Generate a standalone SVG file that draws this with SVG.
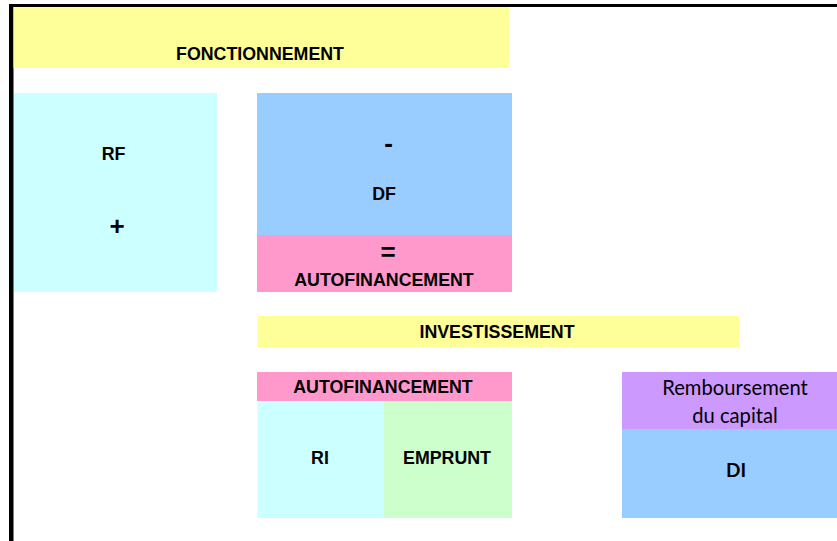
<svg xmlns="http://www.w3.org/2000/svg" width="837" height="541" viewBox="0 0 837 541">
<style>
.b{font-family:"Liberation Sans",Arial,sans-serif;font-weight:bold;font-size:17.8px;fill:#000;text-anchor:middle}
.op{font-family:"Liberation Sans",Arial,sans-serif;font-weight:bold;font-size:26px;fill:#000;text-anchor:middle}
.c{font-family:Lato,"Open Sans",sans-serif;font-size:20.2px;fill:#000;text-anchor:middle}
.cb{font-family:Lato,"Open Sans",sans-serif;font-weight:bold;font-size:19px;fill:#000;text-anchor:middle}
</style>
<rect width="837" height="541" fill="#fff"/>
<g id="frame">
<rect x="9" y="4" width="828" height="3" fill="#000"/>
<rect x="9" y="4" width="4.5" height="537" fill="#000"/>
</g>
<g id="fonctionnement">
<rect x="13.5" y="7" width="495.5" height="61" fill="#FFFF99"/>
<text class="b" x="260" y="60">FONCTIONNEMENT</text>
</g>
<g id="rf">
<rect x="14" y="93" width="203" height="199" fill="#CCFFFF"/>
<text class="b" x="113.5" y="160">RF</text>
<text class="op" x="117" y="235">+</text>
</g>
<g id="df">
<rect x="257" y="93" width="255" height="142" fill="#99CCFF"/>
<text class="op" x="388.5" y="152">-</text>
<text class="b" x="384" y="200">DF</text>
</g>
<g id="autofinancement1">
<rect x="257" y="235" width="255" height="57" fill="#FF99CC"/>
<text class="op" x="388" y="261">=</text>
<text class="b" x="384" y="286">AUTOFINANCEMENT</text>
</g>
<g id="investissement">
<rect x="257.5" y="316" width="481.5" height="31.5" fill="#FFFF99"/>
<text class="b" x="497" y="338">INVESTISSEMENT</text>
</g>
<g id="autofinancement2">
<rect x="257" y="372" width="255" height="29" fill="#FF99CC"/>
<text class="b" x="383" y="393">AUTOFINANCEMENT</text>
</g>
<g id="ri">
<rect x="257.5" y="401" width="126" height="117" fill="#CCFFFF"/>
<text class="b" x="320" y="464">RI</text>
</g>
<g id="emprunt">
<rect x="383.5" y="401" width="128.5" height="117" fill="#CCFFCC"/>
<text class="b" x="447" y="464">EMPRUNT</text>
</g>
<g id="remboursement">
<rect x="622" y="372" width="215" height="57" fill="#CC99FF"/>
<text class="c" x="735" y="395">Remboursement</text>
<text class="c" x="735" y="423">du capital</text>
</g>
<g id="di">
<rect x="622" y="429" width="215" height="89" fill="#99CCFF"/>
<text class="cb" x="736" y="477">DI</text>
</g>
<g id="connectors"></g>
</svg>
